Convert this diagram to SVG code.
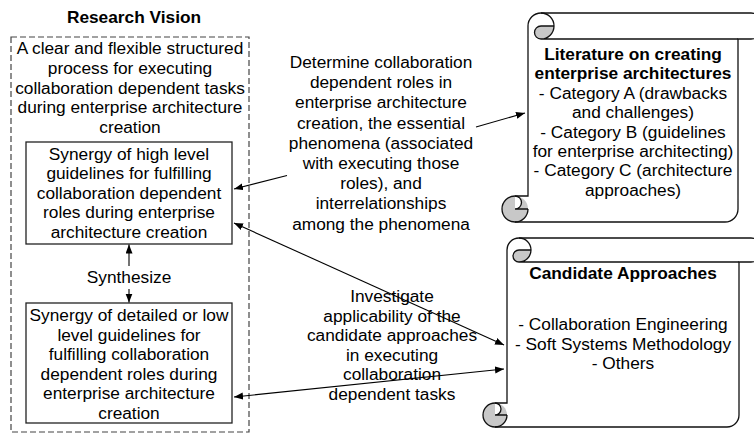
<svg xmlns="http://www.w3.org/2000/svg" width="754" height="435" viewBox="0 0 754 435">
  <style>
    text { font-family: "Liberation Sans", Arial, sans-serif; font-size: 17.3px; fill: #000; text-anchor: middle; }
    .title { font-weight: bold; }
    .dash { fill: none; stroke: #444; stroke-width: 1.2; stroke-dasharray: 6 3; }
    .box { fill: #fff; stroke: #222; stroke-width: 1.3; }
    .link { fill: none; stroke: #000; stroke-width: 1.1; }
    .scroll-fill { fill: #fff; stroke: none; }
    .scroll-dark { fill: #c8c8c8; stroke: none; }
    .scroll-notch { fill: #fff; stroke: none; }
    .scroll-line { fill: none; stroke: #111; stroke-width: 1.3; }
  </style>
  <defs>
    <marker id="arrow" markerUnits="userSpaceOnUse" markerWidth="10" markerHeight="8" refX="9" refY="3.5" orient="auto-start-reverse">
      <path d="M0,0 L9,3.5 L0,7 Z" fill="#000"/>
    </marker>
  </defs>

  <!-- Research vision container -->
  <g id="research-vision">
    <text class="title" x="134" y="23">Research Vision</text>
    <rect class="dash" x="11" y="37" width="238" height="395"/>
    <text x="130" y="54">A clear and flexible structured</text>
    <text x="130" y="73.8">process for executing</text>
    <text x="130" y="93.6">collaboration dependent tasks</text>
    <text x="130" y="113.4">during enterprise architecture</text>
    <text x="130" y="133.2">creation</text>
  </g>

  <g id="high-level-guidelines">
    <rect class="box" x="26" y="142" width="206" height="102"/>
    <text x="129" y="160">Synergy of high level</text>
    <text x="129" y="179.4">guidelines for fulfilling</text>
    <text x="129" y="198.8">collaboration dependent</text>
    <text x="129" y="218.2">roles during enterprise</text>
    <text x="129" y="237.6">architecture creation</text>
  </g>

  <g id="low-level-guidelines">
    <rect class="box" x="26" y="303" width="206" height="120"/>
    <text x="129" y="321">Synergy of detailed or low</text>
    <text x="129" y="340.5">level guidelines for</text>
    <text x="129" y="360">fulfilling collaboration</text>
    <text x="129" y="379.5">dependent roles during</text>
    <text x="129" y="399">enterprise architecture</text>
    <text x="129" y="418.5">creation</text>
  </g>

  <!-- Literature scroll -->
  <g id="literature">
    <path class="scroll-fill" d="M528,196 L528,26 A13,13 0 0 1 541,13 L751,13 A13,13 0 0 1 751,39 L738,39 L738,209 A13,13 0 0 1 725,222 L515,222 A13,13 0 0 1 515,196 Z"/>
    <path class="scroll-dark" d="M554,26 A13,13 0 0 1 541,39 A6.5,6.5 0 0 1 541,26 Z"/>
    <circle class="scroll-dark" cx="515" cy="209" r="13"/>
    <path class="scroll-notch" d="M515,196 A6.5,6.5 0 0 1 515,209 Z"/>
    <path class="scroll-line" d="M528,196 L528,26 A13,13 0 0 1 541,13 L751,13 A13,13 0 0 1 751,39 L738,39 L738,209 A13,13 0 0 1 725,222 L515,222 A13,13 0 0 1 515,196 Z"/>
    <path class="scroll-line" d="M541,13 A13,13 0 0 1 541,39 A6.5,6.5 0 0 1 541,26 L554,26 M738,39 L541,39 M515,196 A6.5,6.5 0 0 1 515,209 L528,209 M515,222 A13,13 0 0 0 528,209"/>
    <text class="title" x="633" y="60">Literature on creating</text>
    <text class="title" x="633" y="79">enterprise architectures</text>
    <text x="633" y="99">- Category A (drawbacks</text>
    <text x="633" y="118.3">and challenges)</text>
    <text x="633" y="137.6">- Category B (guidelines</text>
    <text x="633" y="156.9">for enterprise architecting)</text>
    <text x="633" y="176.2">- Category C (architecture</text>
    <text x="633" y="195.5">approaches)</text>
  </g>

  <!-- Candidate approaches scroll -->
  <g id="candidate-approaches">
    <path class="scroll-fill" d="M507,403 L507,250 A12,12 0 0 1 519,238 L751,238 A12,12 0 0 1 751,262 L739,262 L739,415 A12,12 0 0 1 727,427 L495,427 A12,12 0 0 1 495,403 Z"/>
    <path class="scroll-dark" d="M531,250 A12,12 0 0 1 519,262 A6,6 0 0 1 519,250 Z"/>
    <circle class="scroll-dark" cx="495" cy="415" r="12"/>
    <path class="scroll-notch" d="M495,403 A6,6 0 0 1 495,415 Z"/>
    <path class="scroll-line" d="M507,403 L507,250 A12,12 0 0 1 519,238 L751,238 A12,12 0 0 1 751,262 L739,262 L739,415 A12,12 0 0 1 727,427 L495,427 A12,12 0 0 1 495,403 Z"/>
    <path class="scroll-line" d="M519,238 A12,12 0 0 1 519,262 A6,6 0 0 1 519,250 L531,250 M739,262 L519,262 M495,403 A6,6 0 0 1 495,415 L507,415 M495,427 A12,12 0 0 0 507,415"/>
    <text class="title" x="623" y="279">Candidate Approaches</text>
    <text x="623" y="330">- Collaboration Engineering</text>
    <text x="623" y="349.5">- Soft Systems Methodology</text>
    <text x="623" y="369">- Others</text>
  </g>

  <!-- Connectors and their labels -->
  <g id="connectors">
    <line class="link" x1="129" y1="266" x2="129" y2="244.5" marker-end="url(#arrow)"/>
    <line class="link" x1="129" y1="289" x2="129" y2="302.5" marker-end="url(#arrow)"/>
    <line class="link" x1="476" y1="127" x2="525" y2="113" marker-end="url(#arrow)"/>
    <line class="link" x1="287" y1="175.5" x2="234" y2="189" marker-end="url(#arrow)"/>
    <line class="link" x1="234" y1="223" x2="504" y2="345" marker-start="url(#arrow)" marker-end="url(#arrow)"/>
    <line class="link" x1="234" y1="397" x2="504" y2="369" marker-start="url(#arrow)" marker-end="url(#arrow)"/>

    <text x="129" y="283">Synthesize</text>

    <text x="381" y="68">Determine collaboration</text>
    <text x="381" y="88.2">dependent roles in</text>
    <text x="381" y="108.4">enterprise architecture</text>
    <text x="381" y="128.6">creation, the essential</text>
    <text x="381" y="148.8">phenomena (associated</text>
    <text x="381" y="169">with executing those</text>
    <text x="381" y="189.2">roles), and</text>
    <text x="381" y="209.4">interrelationships</text>
    <text x="381" y="229.6">among the phenomena</text>

    <text x="392" y="302">Investigate</text>
    <text x="392" y="321.6">applicability of the</text>
    <text x="392" y="341.2">candidate approaches</text>
    <text x="392" y="360.8">in executing</text>
    <text x="392" y="380.4">collaboration</text>
    <text x="392" y="400">dependent tasks</text>
  </g>
</svg>
